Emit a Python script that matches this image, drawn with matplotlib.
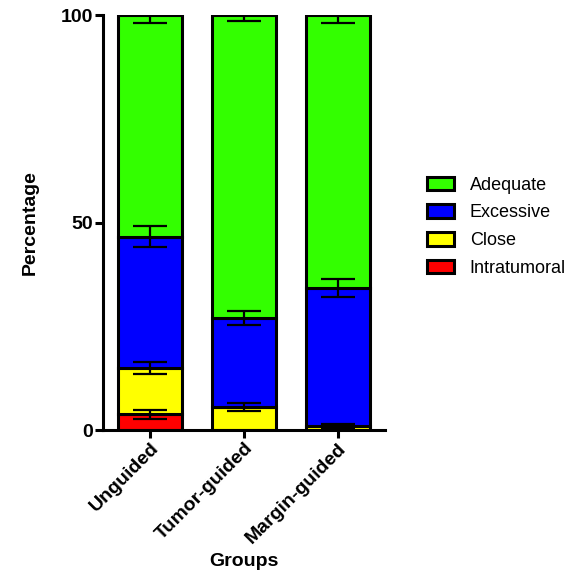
import numpy as np
import matplotlib
matplotlib.use('Agg')
import matplotlib.pyplot as plt

plt.rcParams['font.family'] = ['Liberation Sans', 'DejaVu Sans']

groups = ['Unguided', 'Tumor-guided', 'Margin-guided']
categories = ['Intratumoral', 'Close', 'Excessive', 'Adequate']
colors = ['#FF0000', '#FFFF00', '#0000FF', '#33FF00']

intratumoral = [3.8, 0.0, 0.0]
close = [11.1, 5.5, 1.0]
excessive = [31.7, 21.5, 33.2]
adequate = [53.4, 73.0, 65.8]

err_intratumoral = [1.1, 0.0, 0.0]
err_close = [1.5, 1.0, 0.4]
err_excessive = [2.6, 1.7, 2.2]
err_adequate = [2.0, 1.5, 1.8]

values = [intratumoral, close, excessive, adequate]
errors = [err_intratumoral, err_close, err_excessive, err_adequate]

fig = plt.figure(figsize=(5.72, 5.70), dpi=100)
ax = fig.add_axes([0.180, 0.2456, 0.493, 0.728])

x = np.arange(len(groups))
bottom = np.zeros(len(groups))
handles = []
for cat, vals, errs, col in zip(categories, values, errors, colors):
    vals = np.array(vals)
    b = ax.bar(x, vals, width=0.69, bottom=bottom, color=col, edgecolor='black',
               linewidth=2.2, label=cat, zorder=2)
    handles.append(b)
    top = bottom + vals
    mask = vals > 0
    ax.errorbar(x[mask], top[mask], yerr=np.array(errs)[mask], fmt='none',
                ecolor='black', elinewidth=1.6, capsize=12, capthick=1.6, zorder=4)
    bottom = top

ax.set_xlim(-0.5, 2.5)
ax.set_ylim(0, 100)
ax.set_yticks([0, 50, 100])
ax.set_xticks(x)
ax.set_xticklabels(groups, rotation=45, ha='right', rotation_mode='anchor',
                   fontweight='bold', fontsize=14)
for lab in ax.get_yticklabels():
    lab.set_fontweight('bold')
    lab.set_fontsize(14)
ax.tick_params(axis='both', direction='out', length=6, width=2.2, pad=1)
ax.spines['top'].set_visible(False)
ax.spines['right'].set_visible(False)
ax.spines['left'].set_linewidth(2.2)
ax.spines['bottom'].set_linewidth(2.2)
ax.set_ylabel('Percentage', fontweight='bold', fontsize=14, labelpad=16)
ax.set_xlabel('Groups', fontweight='bold', fontsize=14, va='center')
ax.xaxis.set_label_coords(0.5, -0.316)

leg = ax.legend(handles[::-1], categories[::-1], loc='center left',
                bbox_to_anchor=(1.15, 0.49), frameon=False, fontsize=13,
                handlelength=1.5, handleheight=0.8, labelspacing=0.58,
                handletextpad=0.85, borderpad=0, borderaxespad=0)
for p in leg.get_patches():
    p.set_linewidth(2.2)

fig.savefig('out.png', dpi=100)
